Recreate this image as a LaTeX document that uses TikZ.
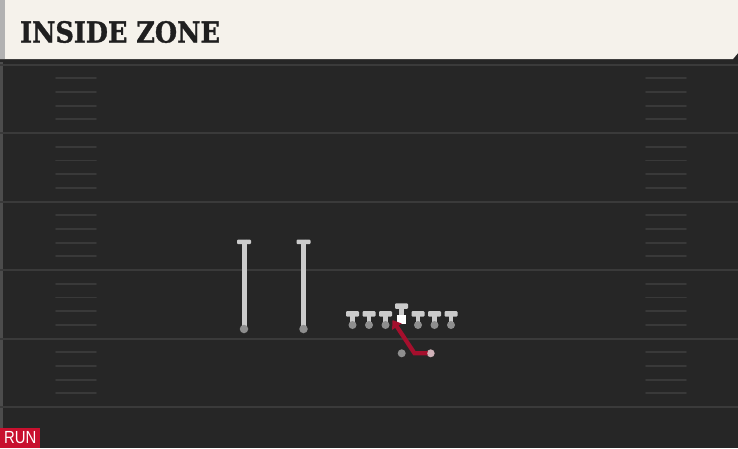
\documentclass[tikz,border=0pt]{standalone}
\usepackage{fontspec}
\setmainfont{DejaVu Serif}
\newfontfamily\titlefont[UprightFont=* Bold, FakeBold=1.2]{DejaVu Serif}
\newfontfamily\runfont{Liberation Sans}
\usetikzlibrary{arrows.meta}
\definecolor{fieldbg}{HTML}{262626}
\definecolor{headbg}{HTML}{F5F2EB}
\definecolor{yardln}{HTML}{3A3A3A}
\definecolor{hashln}{HTML}{393939}
\definecolor{plyr}{HTML}{CBCBCB}
\definecolor{plyrdot}{HTML}{8E8E8E}
\definecolor{routered}{HTML}{A50F2D}
\definecolor{tagred}{HTML}{C8102E}
\tikzset{
  yardline/.style={draw=yardln, line width=2pt},
  hashmark/.style={draw=hashln, line width=1.8pt, line cap=round},
  stem/.style={draw=plyr, line width=4.5pt},
  tbar/.style={fill=plyr, rounded corners=1pt},
  dot/.style={circle, fill=plyrdot, inner sep=0pt, minimum size=8pt},
  route/.style={draw=routered, line width=4.2pt, -{Triangle[length=8pt,width=11pt]}},
  lineman/.pic={
    \draw[stem] (0,0) -- (0,13.5);
    \fill[tbar] (-6.5,0) rectangle (6.5,5.5);
    \node[dot] at (0,14) {};
  },
  receiver/.pic={
    \draw[stem, line width=5pt] (0,0) -- (0,89);
    \fill[tbar] (-7,0) rectangle (7,4.5);
    \node[dot, minimum size=8.5pt] at (0,89.5) {};
  }
}
\begin{document}
\begin{tikzpicture}[x=1pt,y=-1pt]
\useasboundingbox (0,0) rectangle (738,448);
% backgrounds
\fill[fieldbg] (0,0) rectangle (738,448);
\fill[black!85] (0,58) rectangle (738,62);
\fill[headbg] (0,0) -- (738,0) -- (738,53) -- (733,59) -- (0,59) -- cycle;
\fill[gray!60] (0,0) rectangle (5,59);
\fill[black!70] (0,62) rectangle (3,448);
% yard lines and hash marks
\foreach \k in {0,...,5}{
  \pgfmathsetmacro{\yy}{64.5+68.5*\k}
  \draw[yardline] (0,\yy) -- (738,\yy);
  \ifnum\k<5
  \foreach \j in {1,...,4}{
    \pgfmathsetmacro{\hy}{\yy+13.7*\j}
    \draw[hashmark] (56,\hy) -- (96,\hy);
    \draw[hashmark] (646,\hy) -- (686,\hy);
  }
  \fi
}
% title
\node[anchor=west, inner sep=0pt, text=black!88] (title) at (20,32)
  {\scalebox{0.88}[1]{\titlefont\fontsize{29}{29}\selectfont INSIDE ZONE}};
% receivers
\pic at (244,239.5) {receiver};
\pic at (303.5,239.5) {receiver};
% line
\foreach \x in {352.5,369,385.5,418,434.5,451}{
  \pic at (\x,311) {lineman};
}
% center
\draw[stem] (401.5,304) -- (401.5,316);
\fill[tbar] (395,303.3) rectangle (408,308.8);
\node[fill=white, inner sep=0pt, minimum size=9pt] (center) at (401.5,319) {};
% back and route start
\node[dot] (back) at (401.7,353.3) {};
\node[dot, fill=plyrdot!70!routered!60!white] (rs) at (430.7,353.3) {};
\coordinate (bend) at (414.5,353.3);
\draw[route] (rs.center) -- (bend) -- (392.5,320);
\node[dot, fill=plyrdot!55!routered!45!white, minimum size=7pt] at (430.7,353.3) {};
% RUN tag
\node[fill=tagred, anchor=south west, minimum width=40pt, minimum height=20pt, inner sep=0pt,
  text=white] (tag) at (0,448) {\scalebox{0.85}[1]{\runfont\fontsize{17.5}{17.5}\selectfont RUN}};
\end{tikzpicture}
\end{document}
